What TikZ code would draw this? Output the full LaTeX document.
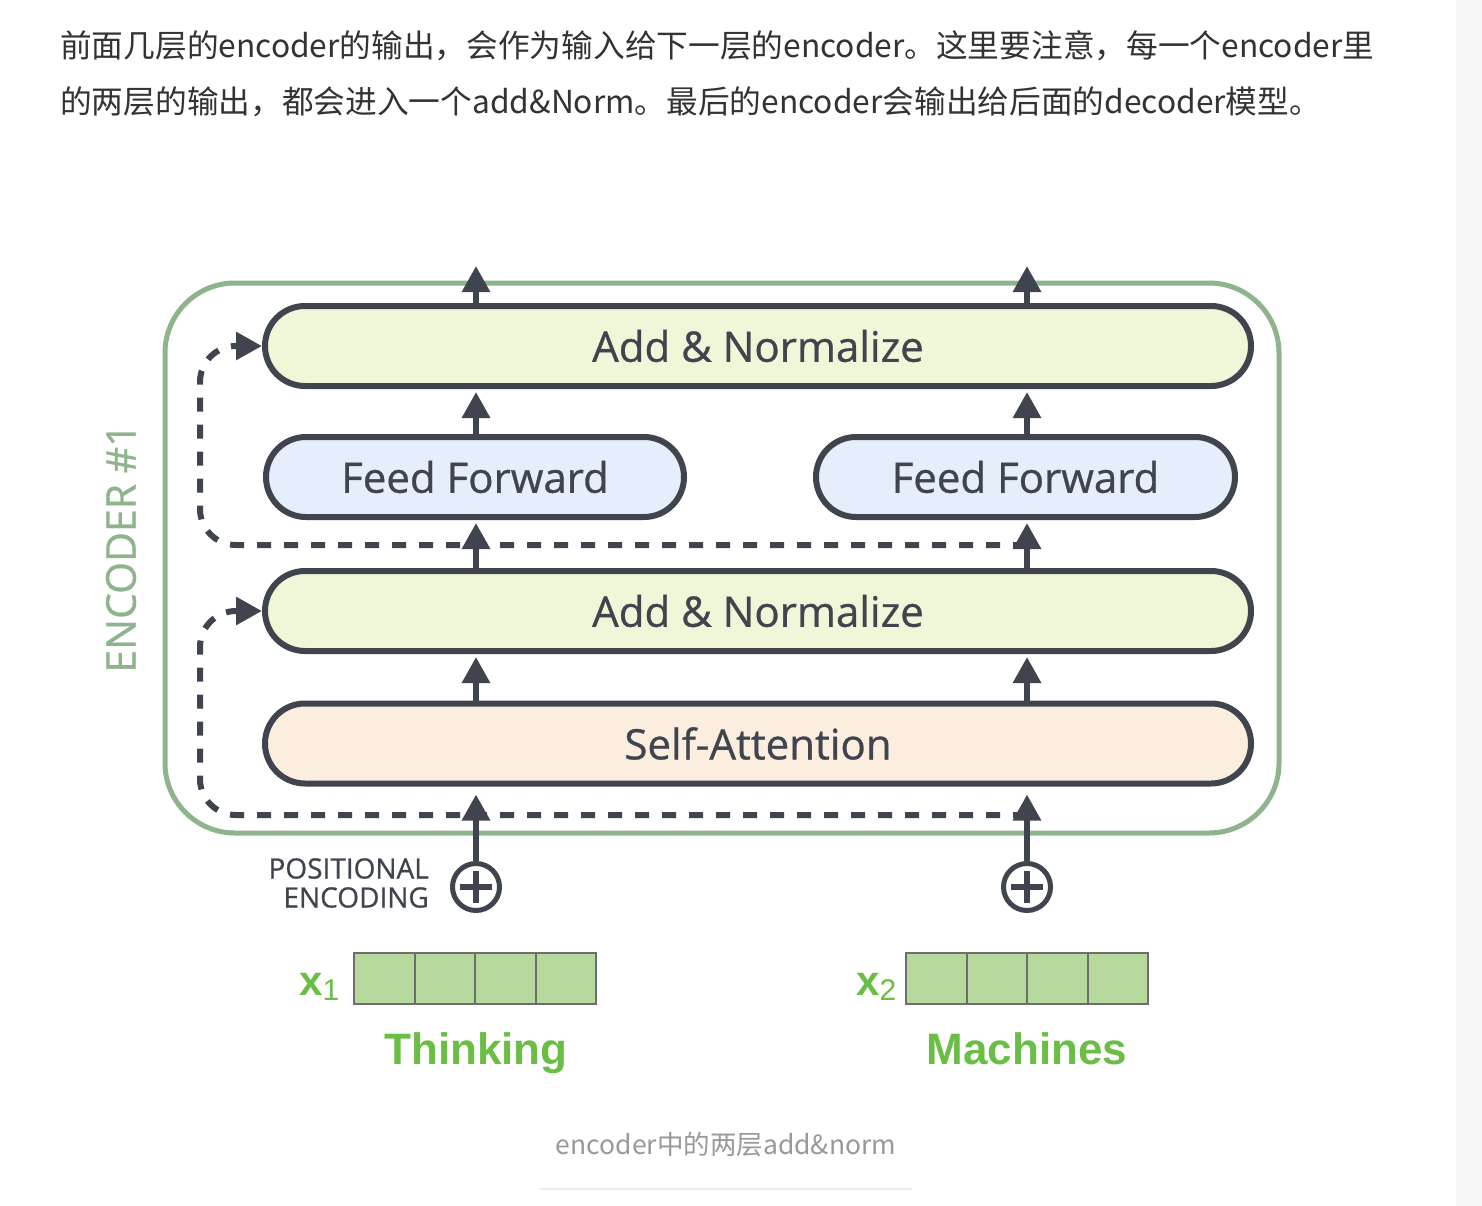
\documentclass[tikz,border=0pt]{standalone}
\usepackage{fontspec}
\usetikzlibrary{arrows.meta,positioning}
\newfontfamily\cjk{Noto Sans CJK SC}
\newfontfamily\boxfont[FakeBold=0.7]{Open Sans}
\newfontfamily\wordfont{Liberation Sans}
\definecolor{ink}{HTML}{40444E}
\definecolor{encgreen}{HTML}{8DB48A}
\definecolor{normfill}{HTML}{EEF7D7}
\definecolor{fffill}{HTML}{E5EEFA}
\definecolor{attfill}{HTML}{FBEEDF}
\definecolor{vecfill}{HTML}{B7D99D}
\definecolor{vecline}{HTML}{6E6E6E}
\definecolor{wordgreen}{HTML}{6BBE45}
\definecolor{bodytext}{HTML}{333333}
\definecolor{captext}{HTML}{999999}
\definecolor{sidebar}{HTML}{F7F7F7}

\begin{document}
\begin{tikzpicture}[x=1pt,y=-1pt,
    sublayer/.style={draw=ink, line width=6pt, rounded corners=40pt, minimum height=80pt,
        inner sep=0pt, text=ink, font=\boxfont\fontsize{42}{42}\selectfont},
    arr/.style={draw=ink, line width=6pt, -{Triangle[width=27pt,length=26pt]}, shorten >=3pt},
    resid/.style={draw=ink, line width=6pt, dash pattern=on 14pt off 13pt, rounded corners=36pt,
        -{Triangle[width=27pt,length=26pt]}},
    addcirc/.style={circle, draw=ink, line width=5pt, minimum size=47pt, inner sep=0pt},
    cell/.style={draw=vecline, line width=2pt, fill=vecfill, minimum width=60.5pt,
        minimum height=51pt, inner sep=0pt},
    word/.style={text=wordgreen, inner sep=0pt, font=\wordfont\bfseries\fontsize{44}{44}\selectfont}]

    \useasboundingbox (0,0) rectangle (1482,1206);
    \fill[white] (0,0) rectangle (1482,1206);
    \fill[sidebar] (1456,0) rectangle (1482,1206);

    % text above the picture
    \node[anchor=base west, inner sep=0pt, text=bodytext, font=\cjk\fontsize{31.7}{31.7}\selectfont] (intro1) at (60,58)
        {前面几层的encoder的输出，会作为输入给下一层的encoder。这里要注意，每一个encoder里};
    \node[anchor=base west, inner sep=0pt, text=bodytext, font=\cjk\fontsize{31.7}{31.7}\selectfont] (intro2) at (60,114)
        {的两层的输出，都会进入一个add\&Norm。最后的encoder会输出给后面的decoder模型。};

    % encoder frame
    \draw[encgreen, line width=5pt, rounded corners=70pt] (165,283) rectangle (1279,833);
    \node[rotate=90, text=encgreen, font=\boxfont\fontsize{41}{41}\selectfont] (enclabel) at (121,548) {ENCODER \#1};

    % sublayers
    \node[sublayer, fill=normfill, minimum width=986pt] (norm1) at (758,346) {Add \& Normalize};
    \node[sublayer, fill=fffill, minimum width=418pt] (ffn1) at (475,477) {Feed Forward};
    \node[sublayer, fill=fffill, minimum width=419pt] (ffn2) at (1025.5,477) {Feed Forward};
    \node[sublayer, fill=normfill, minimum width=986pt] (norm2) at (758,611) {Add \& Normalize};
    \node[sublayer, fill=attfill, minimum width=986pt] (attn) at (758,743.5) {Self-Attention};

    % positional encoding
    \node[addcirc] (pe1) at (476,887) {};
    \node[addcirc] (pe2) at (1027,887) {};
    \node[anchor=east, align=right, inner sep=0pt, text=ink, font=\boxfont\fontsize{28}{29}\selectfont] (poslabel)
        at (429,883) {POSITIONAL\\ENCODING};

    % input vectors
    \foreach \i in {0,...,3} {
        \node[cell] (xa\i) at (384.25+60.5*\i,978.5) {};
        \node[cell] (xb\i) at (936.25+60.5*\i,978.5) {};
    }
    \node[anchor=base west, inner sep=0pt, text=wordgreen] (xlab1) at (299,995)
        {{\wordfont\bfseries\fontsize{42}{42}\selectfont x}{\wordfont\fontsize{30}{30}\selectfont\raisebox{-5pt}{1}}};
    \node[anchor=base west, inner sep=0pt, text=wordgreen] (xlab2) at (856,995)
        {{\wordfont\bfseries\fontsize{42}{42}\selectfont x}{\wordfont\fontsize{30}{30}\selectfont\raisebox{-5pt}{2}}};
    \node[word, anchor=base] (tok1) at (476,1064) {Thinking};
    \node[word, anchor=base] (tok2) at (1027,1064) {Machines};

    % residual connections
    \coordinate (skip1) at (1027,815);
    \coordinate (skip2) at (1027,545);
    \draw[resid] (skip1) -| ([xshift=-62pt]norm2.west) -- (norm2.west);
    \draw[resid] (skip2) -| ([xshift=-62pt]norm1.west) -- (norm1.west);

    % flow upwards
    \coordinate (out1) at (476,263);
    \coordinate (out2) at (1027,263);
    \foreach \p/\o in {pe1/out1, pe2/out2} {
        \draw[arr, shorten >=8pt] (\p) -- (\p |- attn.south);
        \draw[arr] (\p |- attn.north) -- (\p |- norm2.south);
        \draw[arr] (\p |- norm2.north) -- (\p |- ffn1.south);
        \draw[arr] (\p |- ffn1.north) -- (\p |- norm1.south);
        \draw[arr] (\p |- norm1.north) -- (\o);
        \draw[ink, line width=6pt] ([xshift=-16pt]\p.center) -- ([xshift=16pt]\p.center);
        \draw[ink, line width=6pt] ([yshift=-16pt]\p.center) -- ([yshift=16pt]\p.center);
    }

    % caption
    \node[anchor=base, inner sep=0pt, text=captext, font=\cjk\fontsize{26.5}{26.5}\selectfont] (caption) at (726,1154)
        {encoder中的两层add\&norm};
    \draw[black!8, line width=2pt] (540,1189) -- (912,1189);

\end{tikzpicture}
\end{document}
